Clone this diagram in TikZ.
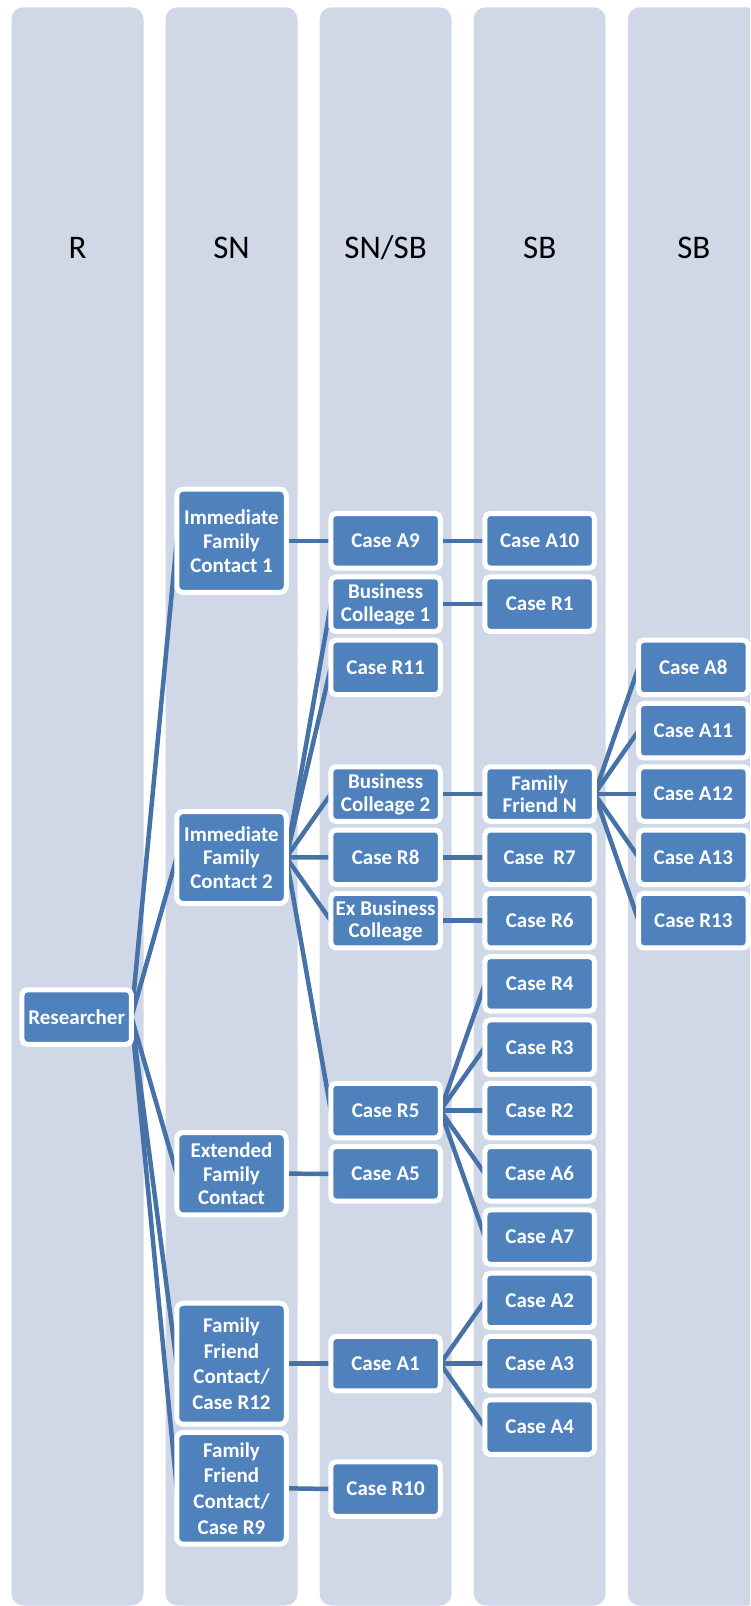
\documentclass[tikz,border=0pt]{standalone}
\usepackage{fontspec}
\setmainfont{Carlito}
\definecolor{colfill}{RGB}{208,216,232}
\definecolor{nodeblue}{RGB}{79,129,189}
\definecolor{linkblue}{RGB}{70,114,168}
\pgfdeclarelayer{cols}
\pgfdeclarelayer{links}
\pgfsetlayers{cols,links,main}
\tikzset{
  lane/.style={fill=colfill, rounded corners=12pt},
  hdr/.style={font=\fontsize{33}{36}\selectfont, text=black, inner sep=0pt, anchor=base},
  box/.style={rectangle, rounded corners=5pt, fill=nodeblue, draw=white, line width=5pt,
    text=white, font=\bfseries\fontsize{21}{23}\selectfont, align=center,
    minimum width=109.5pt, minimum height=54.5pt, inner sep=0pt, outer sep=0pt},
  bigbox/.style={box, rounded corners=6.5pt, minimum height=#1},
  link/.style={draw=linkblue, line width=4.5pt}
}
\begin{document}
\begin{tikzpicture}[x=1pt,y=-1pt]
\useasboundingbox (0,0) rectangle (750,1606);

% swim lanes and their headings
\begin{pgfonlayer}{cols}
  \clip (0,0) rectangle (750,1606);
  \fill[lane] (11.5,7.3) rectangle (143.5,1605.5);
  \fill[lane] (165.5,7.3) rectangle (297.5,1605.5);
  \fill[lane] (319.6,7.3) rectangle (451.6,1605.5);
  \fill[lane] (473.7,7.3) rectangle (605.7,1605.5);
  \fill[lane] (627.8,7.3) rectangle (759.8,1605.5);
\end{pgfonlayer}
\node[hdr] (hR)  at (77.5,258.3)  {R};
\node[hdr] (hSN) at (231.5,258.3) {SN};
\node[hdr] (hSNSB) at (385.6,258.3) {SN/SB};
\node[hdr] (hSB1) at (539.7,258.3) {SB};
\node[hdr] (hSB2) at (693.8,258.3) {SB};

% level R
\node[box] (res) at (76.7,1017) {Researcher};

% level SN
\node[bigbox=103.3pt, font=\bfseries\fontsize{21}{24}\selectfont] (ifc1) at (231.5,540.8) {Immediate\\Family\\Contact 1};
\node[bigbox=92pt, font=\bfseries\fontsize{21}{23.8}\selectfont] (ifc2) at (231.5,857.5) {Immediate\\Family\\Contact 2};
\node[bigbox=82.3pt, font=\bfseries\fontsize{21}{23.3}\selectfont] (efc) at (231.5,1173.7) {Extended\\Family\\Contact};
\node[bigbox=121pt, font=\bfseries\fontsize{21}{25.8}\selectfont] (ffc12) at (231.5,1363.7) {Family\\Friend\\Contact/\\Case R12};
\node[bigbox=111.7pt, font=\bfseries\fontsize{21}{25.6}\selectfont] (ffc9) at (231.5,1488.3) {Family\\Friend\\Contact/\\Case R9};

% level SN/SB
\node[box] (a9)   at (385.6,540.8)  {Case A9};
\node[box] (bc1)  at (385.6,604.1)  {Business\\Colleage 1};
\node[box] (r11)  at (385.6,667.4)  {Case R11};
\node[box] (bc2)  at (385.6,794.0)  {Business\\Colleage 2};
\node[box] (r8)   at (385.6,857.3)  {Case R8};
\node[box, font=\bfseries\fontsize{21}{21.7}\selectfont] (exbc) at (385.6,920.6) {Ex Business\\Colleage};
\node[box] (r5)   at (385.6,1110.5) {Case R5};
\node[box] (a5)   at (385.6,1173.8) {Case A5};
\node[box] (a1)   at (385.6,1363.7) {Case A1};
\node[box] (r10)  at (385.6,1489.0) {Case R10};

% first SB level
\node[box] (a10) at (539.7,540.8)  {Case A10};
\node[box] (r1)  at (539.7,604.1)  {Case R1};
\node[box, font=\bfseries\fontsize{21}{22}\selectfont] (ffn) at (539.7,794.0) {Family\\Friend N};
\node[box] (r7)  at (539.7,857.3)  {Case~~R7};
\node[box] (r6)  at (539.7,920.6)  {Case R6};
\node[box] (r4)  at (539.7,983.9)  {Case R4};
\node[box] (r3)  at (539.7,1047.2) {Case R3};
\node[box] (r2)  at (539.7,1110.5) {Case R2};
\node[box] (a6)  at (539.7,1173.8) {Case A6};
\node[box] (a7)  at (539.7,1237.1) {Case A7};
\node[box] (a2)  at (539.7,1300.4) {Case A2};
\node[box] (a3)  at (539.7,1363.7) {Case A3};
\node[box] (a4)  at (539.7,1427.0) {Case A4};

% second SB level
\node[box] (a8)  at (693.3,667.4) {Case A8};
\node[box] (a11) at (693.3,730.7) {Case A11};
\node[box] (a12) at (693.3,794.0) {Case A12};
\node[box] (a13) at (693.3,857.3) {Case A13};
\node[box] (r13) at (693.3,920.6) {Case R13};

% connectors, behind the boxes
\begin{pgfonlayer}{links}
  \foreach \c in {ifc1,ifc2,efc,ffc12,ffc9} \draw[link] (res.east) -- (\c.west);
  \draw[link] (ifc1.east) -- (a9.west);
  \foreach \c in {bc1,r11,bc2,r8,exbc,r5} \draw[link] (ifc2.east) -- (\c.west);
  \draw[link] (efc.east) -- (a5.west);
  \draw[link] (ffc12.east) -- (a1.west);
  \draw[link] (ffc9.east) -- (r10.west);
  \draw[link] (a9.east) -- (a10.west);
  \draw[link] (bc1.east) -- (r1.west);
  \draw[link] (bc2.east) -- (ffn.west);
  \draw[link] (r8.east) -- (r7.west);
  \draw[link] (exbc.east) -- (r6.west);
  \foreach \c in {r4,r3,r2,a6,a7} \draw[link] (r5.east) -- (\c.west);
  \foreach \c in {a2,a3,a4} \draw[link] (a1.east) -- (\c.west);
  \foreach \c in {a8,a11,a12,a13,r13} \draw[link] (ffn.east) -- (\c.west);
\end{pgfonlayer}
\end{tikzpicture}
\end{document}
